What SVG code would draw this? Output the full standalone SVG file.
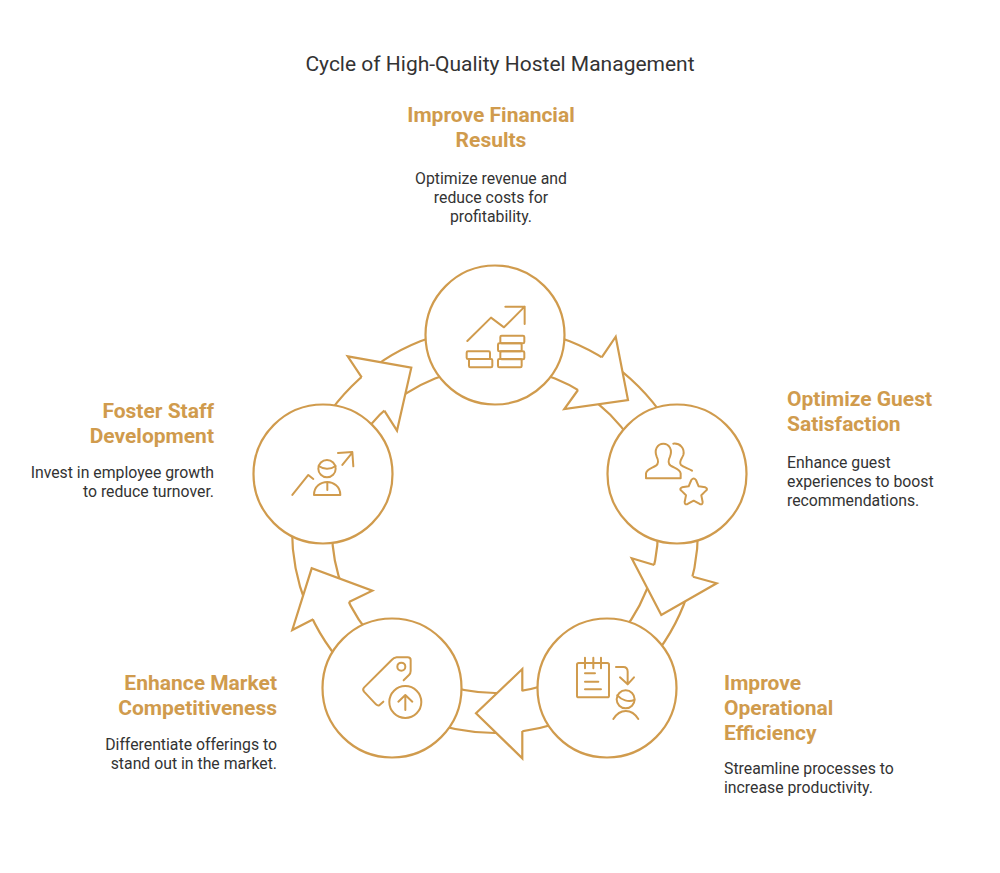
<svg xmlns="http://www.w3.org/2000/svg" width="1000" height="873" viewBox="0 0 1000 873">
<style>
.l{fill:none;stroke:#d09b4d;stroke-width:2.2;stroke-linejoin:round;stroke-linecap:round}
.h{fill:#fff;stroke:#d09b4d;stroke-width:2.2;stroke-linejoin:miter}
.i{fill:none;stroke:#d09b4d;stroke-width:6;stroke-linejoin:round;stroke-linecap:round}
.c{fill:#fff;stroke:#d09b4d;stroke-width:2.2}
text{font-family:Roboto,"Liberation Sans",sans-serif;fill:#333}
.t{font-size:21px}
.a{font-size:21px;font-weight:700;fill:#d09b4d}
.b{font-size:15.8px}
.m{text-anchor:middle}
.e{text-anchor:end}
</style>
<rect width="1000" height="873" fill="#fff"/>
<text class="t m" x="500" y="71">Cycle of High-Quality Hostel Management</text>
<g id="connectors">
<circle class="l" cx="495" cy="530" r="203"/>
<circle class="l" cx="495" cy="530" r="163"/>
<path class="h" d="M601.7 357.3L615.7 336.7L628 400L564.3 409L578 390"/>
<path class="h" d="M693 576.7L716.7 583.3L661.3 615L631.7 558.3L654.3 565"/>
<path class="h" d="M522.3 691.3V669L476 713.3L522.3 758.3V731"/>
<path class="h" d="M313.3 619.3L292.3 630L311.7 568.3L372.3 590.7L349 602"/>
<path class="h" d="M361.7 377.3L347.7 356.3L411.3 367.7L397 430.7L384.3 410.7"/>
</g>
<g id="node-financial">
<circle class="c" cx="495" cy="335" r="69.5"/>
<g transform="translate(420 260) scale(.3333)">
<path class="i" d="M142 243L213 173L252 202L314 140M256 140H314V192"/>
<rect class="i" x="140" y="274" width="70" height="23" rx="4"/>
<rect class="i" x="147" y="297" width="70" height="25" rx="4"/>
<rect class="i" x="234" y="297" width="71" height="25" rx="4"/>
<rect class="i" x="241" y="274" width="72" height="24" rx="4"/>
<rect class="i" x="234" y="250" width="71" height="24" rx="4"/>
<rect class="i" x="241" y="227" width="72" height="23" rx="4"/>
</g>
<text class="a m" x="491" y="122">Improve Financial</text>
<text class="a m" x="491" y="147">Results</text>
<text class="b m" x="491" y="183.5">Optimize revenue and</text>
<text class="b m" x="491" y="202.5">reduce costs for</text>
<text class="b m" x="491" y="221.5">profitability.</text>
</g>
<g id="node-guest">
<circle class="c" cx="677" cy="474" r="69.5"/>
<g transform="translate(600 400) scale(.3333)">
<path class="i" d="M138 235H242V220C240 207 225 205 212 197C203 190 205 180 210 170C218 150 208 131 190 131C172 131 162 150 170 170C175 180 177 190 168 197C155 205 140 207 138 220Z"/>
<path class="i" d="M220 131C240 129 255 145 250 165C245 178 235 185 243 195C250 202 265 205 276 212"/>
<path class="i" d="M274 240Q281 231 288 240L296 259L316 262Q325 266 318 272L304 286L308 306Q308 316 299 312L281 302L263 312Q254 316 254 306L258 286L244 272Q237 266 246 262L266 259Z"/>
</g>
<text class="a" x="787" y="406">Optimize Guest</text>
<text class="a" x="787" y="431">Satisfaction</text>
<text class="b" x="787" y="467.5">Enhance guest</text>
<text class="b" x="787" y="486.5">experiences to boost</text>
<text class="b" x="787" y="505.5">recommendations.</text>
</g>
<g id="node-operational">
<circle class="c" cx="607" cy="688" r="69.5"/>
<g transform="translate(460 620) scale(.3333)">
<rect class="i" x="351" y="129" width="96" height="103" rx="5"/>
<path class="i" d="M375 113V145M400 113V145M423 113V145M375 160H405M375 185H415M375 208H423"/>
<path class="i" d="M468 141H490Q503 141 503 155V192M480 172L503 193L522 172"/>
<circle class="i" cx="497" cy="238" r="27"/>
<path class="i" d="M472 226C485 240 505 248 523 240M460 297C480 265 515 265 535 297"/>
</g>
<text class="a" x="724" y="690">Improve</text>
<text class="a" x="724" y="715">Operational</text>
<text class="a" x="724" y="740">Efficiency</text>
<text class="b" x="724" y="773.5">Streamline processes to</text>
<text class="b" x="724" y="792.5">increase productivity.</text>
</g>
<g id="node-market">
<circle class="c" cx="392" cy="688" r="69.5"/>
<g transform="translate(285 560) scale(.3333)">
<path class="i" d="M295 425L283 436Q278 438 273 433L237 395Q232 388 237 383L320 300Q326 293 335 292H368Q377 292 377 300V333Q377 340 372 345L356 361"/>
<circle class="i" cx="349" cy="320" r="12"/>
<circle class="i" cx="361" cy="426" r="48"/>
<path class="i" d="M361 450V405M340 425L361 405L382 425"/>
</g>
<text class="a e" x="277" y="690">Enhance Market</text>
<text class="a e" x="277" y="715">Competitiveness</text>
<text class="b e" x="277" y="749.5">Differentiate offerings to</text>
<text class="b e" x="277" y="768.5">stand out in the market.</text>
</g>
<g id="node-staff">
<circle class="c" cx="323" cy="474" r="69.5"/>
<g transform="translate(250 340) scale(.3333)">
<path class="i" d="M127 465L175 405L190 417"/>
<circle class="i" cx="231" cy="386" r="26"/>
<path class="i" d="M206 378C220 388 240 390 257 378"/>
<path class="i" d="M192 465H271C271 440 250 426 232 426C212 426 192 440 192 465ZM232 428V450"/>
<path class="i" d="M277 375L307 338M264 339L307 336L310 379"/>
</g>
<text class="a e" x="214" y="418">Foster Staff</text>
<text class="a e" x="214" y="443">Development</text>
<text class="b e" x="214" y="477.5">Invest in employee growth</text>
<text class="b e" x="214" y="496.5">to reduce turnover.</text>
</g>
</svg>
